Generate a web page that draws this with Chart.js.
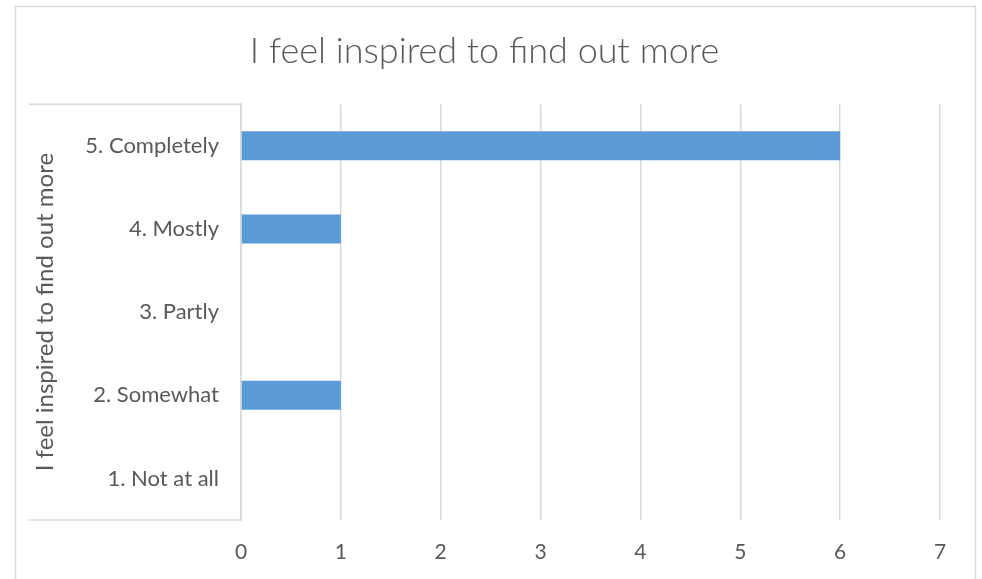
<!DOCTYPE html>
<html lang="en">
<head>
    <meta charset="UTF-8">
    <title>I feel inspired to find out more</title>
    <script src="https://cdn.jsdelivr.net/npm/chart.js"></script>
    <style>
        html, body {
            margin: 0;
            padding: 0;
            background: #ffffff;
        }

        #wrap {
            width: 982px;
            height: 579px;
        }
    </style>
</head>
<body>
    <div id="wrap">
        <canvas id="chart" width="982" height="579"></canvas>
    </div>

    <script>
        // Chart data
        const chartTitle = "I feel inspired to find out more";
        const categories = ["5. Completely", "4. Mostly", "3. Partly", "2. Somewhat", "1. Not at all"];
        const responses = [6, 1, 0, 1, 0];
        const xTicks = [0, 1, 2, 3, 4, 5, 6, 7];

        const textColor = "#595959";
        const lineColor = "#d9d9d9";
        const fontFamily = "Lato, 'Open Sans', sans-serif";

        // Outer frame plus the box around the category labels
        const framePlugin = {
            id: "frame",
            afterDraw(chart) {
                const ctx = chart.ctx;
                const area = chart.chartArea;
                const yScale = chart.scales.y;
                ctx.save();
                ctx.strokeStyle = lineColor;
                ctx.lineWidth = 1.5;
                ctx.beginPath();
                ctx.moveTo(15.5, chart.height + 5);
                ctx.lineTo(15.5, 6.5);
                ctx.lineTo(chart.width - 6.5, 6.5);
                ctx.lineTo(chart.width - 6.5, chart.height + 5);
                ctx.stroke();

                ctx.beginPath();
                ctx.moveTo(yScale.left, area.top);
                ctx.lineTo(area.left, area.top);
                ctx.moveTo(yScale.left, area.bottom);
                ctx.lineTo(area.left, area.bottom);
                ctx.stroke();
                ctx.restore();
            }
        };

        const ctx = document.getElementById("chart").getContext("2d");
        const chart = new Chart(ctx, {
            type: "bar",
            data: {
                labels: categories,
                datasets: [
                    {
                        label: chartTitle,
                        data: responses,
                        backgroundColor: "#5b9bd5",
                        borderWidth: 0,
                        categoryPercentage: 1,
                        barPercentage: 0.35,
                    },
                ],
            },
            options: {
                indexAxis: "y",
                responsive: false,
                animation: false,
                layout: {
                    padding: { left: 29, right: 42, top: 0, bottom: 0 },
                },
                plugins: {
                    legend: { display: false },
                    tooltip: { enabled: false },
                    title: {
                        display: true,
                        text: chartTitle,
                        color: textColor,
                        font: { family: fontFamily, size: 36, weight: 300 },
                        padding: { top: 30, bottom: 31 },
                    },
                },
                scales: {
                    x: {
                        min: 0,
                        max: 7,
                        afterBuildTicks(scale) {
                            scale.ticks = xTicks.map(v => ({ value: v }));
                        },
                        afterFit(scale) {
                            scale.height = 59;
                        },
                        grid: {
                            color: lineColor,
                            lineWidth: 1.5,
                            drawTicks: false,
                        },
                        border: { display: false },
                        ticks: {
                            color: textColor,
                            padding: 20,
                            font: { family: fontFamily, size: 21 },
                        },
                    },
                    y: {
                        afterFit(scale) {
                            scale.width = 212;
                        },
                        grid: { display: false, drawTicks: false },
                        border: { display: true, color: lineColor, width: 1.5 },
                        ticks: {
                            color: textColor,
                            padding: 22,
                            font: { family: fontFamily, size: 22 },
                        },
                        title: {
                            display: true,
                            text: chartTitle,
                            color: textColor,
                            padding: { top: 2, bottom: 0 },
                            font: { family: fontFamily, size: 24 },
                        },
                    },
                },
            },
            plugins: [framePlugin],
        });
    </script>
</body>
</html>
